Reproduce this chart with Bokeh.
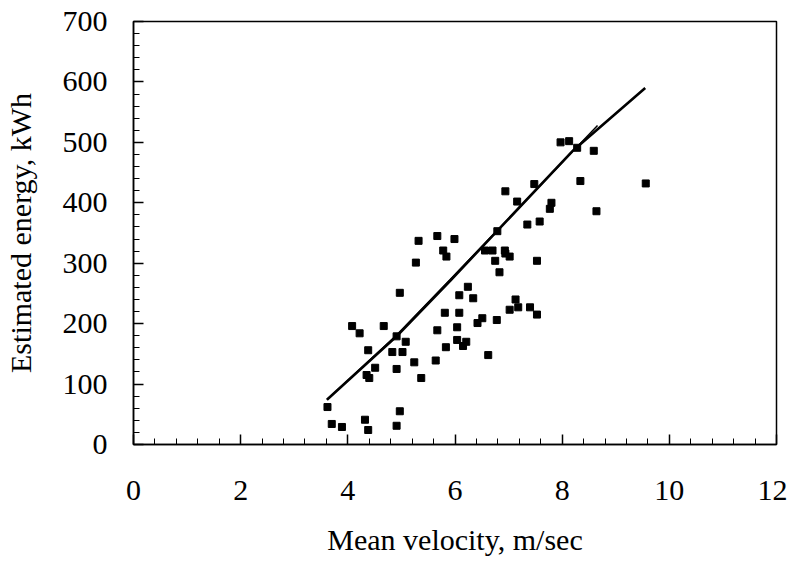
from bokeh.plotting import figure
from bokeh.models import Range1d, FixedTicker
from bokeh.embed import file_html
from bokeh.resources import INLINE

# Observed points: mean velocity (m/s) vs estimated energy (kWh)
vel = [3.62, 3.70, 3.89, 4.32, 4.38, 4.91, 4.97, 4.08, 4.22, 4.67, 4.38, 4.91,
       5.08, 4.83, 5.02, 4.51, 4.35, 4.40, 4.91, 5.24, 5.37, 5.64, 5.83, 5.67,
       5.81, 6.08, 6.04, 6.04, 6.21, 6.15, 6.62, 6.42, 6.51, 6.78, 6.34, 7.02,
       7.18, 7.40, 7.53, 7.13, 6.94, 7.48, 7.16, 7.80, 7.77, 7.35, 7.58, 6.79,
       5.99, 6.56, 6.70, 6.93, 6.94, 7.02, 6.75, 7.53, 6.83, 6.24, 6.08, 7.97,
       8.13, 8.28, 8.59, 8.34, 9.56, 8.64, 5.32, 5.67, 5.78, 5.84, 5.27, 4.97]
energy = [62, 34, 29, 41, 24, 31, 55, 196, 184, 196, 156, 179,
          170, 153, 153, 127, 115, 110, 125, 136, 110, 139, 161, 189,
          218, 218, 194, 173, 170, 163, 148, 201, 209, 206, 242, 223,
          227, 227, 215, 240, 419, 431, 402, 400, 390, 364, 369, 353,
          340, 321, 321, 321, 316, 311, 304, 304, 285, 261, 247, 500,
          502, 491, 486, 436, 432, 386, 337, 345, 321, 311, 301, 251]

# Fitted curves
fit_a_x = [3.61, 4.91, 5.91, 8.21, 9.55]
fit_a_y = [74, 179, 271, 487, 590]
fit_b_x = [3.61, 4.91, 5.91, 8.66]
fit_b_y = [74, 181, 273, 528]

x_ticks = [0, 2, 4, 6, 8, 10, 12]
y_ticks = [0, 100, 200, 300, 400, 500, 600, 700]
x_minor = [round(i * 0.4, 2) for i in range(31)]
y_minor = [i * 20 for i in range(36)]

x_title = "Mean velocity, m/sec"
y_title = "Estimated energy, kWh"

FONT = "Liberation Serif"

p = figure(width=787, height=558, output_backend="svg", toolbar_location=None,
           x_range=Range1d(0, 12), y_range=Range1d(0, 700),
           min_border_left=133, min_border_right=11, min_border_top=21,
           min_border_bottom=114)
p.background_fill_color = "white"
p.border_fill_color = "white"
p.outline_line_color = "black"
p.outline_line_width = 1.5
p.xgrid.visible = False
p.ygrid.visible = False

p.line(fit_a_x, fit_a_y, line_color="black", line_width=2.6)
p.line(fit_b_x, fit_b_y, line_color="black", line_width=1.5)
p.scatter(vel, energy, marker="square", size=7, fill_color="black",
          line_color="black")

p.xaxis.ticker = FixedTicker(ticks=x_ticks, minor_ticks=x_minor)
p.yaxis.ticker = FixedTicker(ticks=y_ticks, minor_ticks=y_minor)
for ax in (p.xaxis[0], p.yaxis[0]):
    ax.axis_line_color = "black"
    ax.axis_line_width = 1.5
    ax.major_tick_in = 10
    ax.major_tick_out = 0
    ax.minor_tick_in = 6
    ax.minor_tick_out = 0
    ax.major_tick_line_color = "black"
    ax.minor_tick_line_color = "black"
    ax.major_tick_line_width = 1.5
    ax.minor_tick_line_width = 1
    ax.major_label_text_font = FONT
    ax.major_label_text_font_size = "30px"
    ax.major_label_text_color = "black"
    ax.axis_label_text_font = FONT
    ax.axis_label_text_font_size = "30px"
    ax.axis_label_text_font_style = "normal"
    ax.axis_label_text_color = "black"

p.xaxis.axis_label = x_title
p.yaxis.axis_label = y_title
p.xaxis.major_label_standoff = 36
p.xaxis.axis_label_standoff = 20
p.yaxis.major_label_standoff = 26
p.yaxis.axis_label_standoff = 23

open("out.html", "w").write(file_html(p, INLINE))
